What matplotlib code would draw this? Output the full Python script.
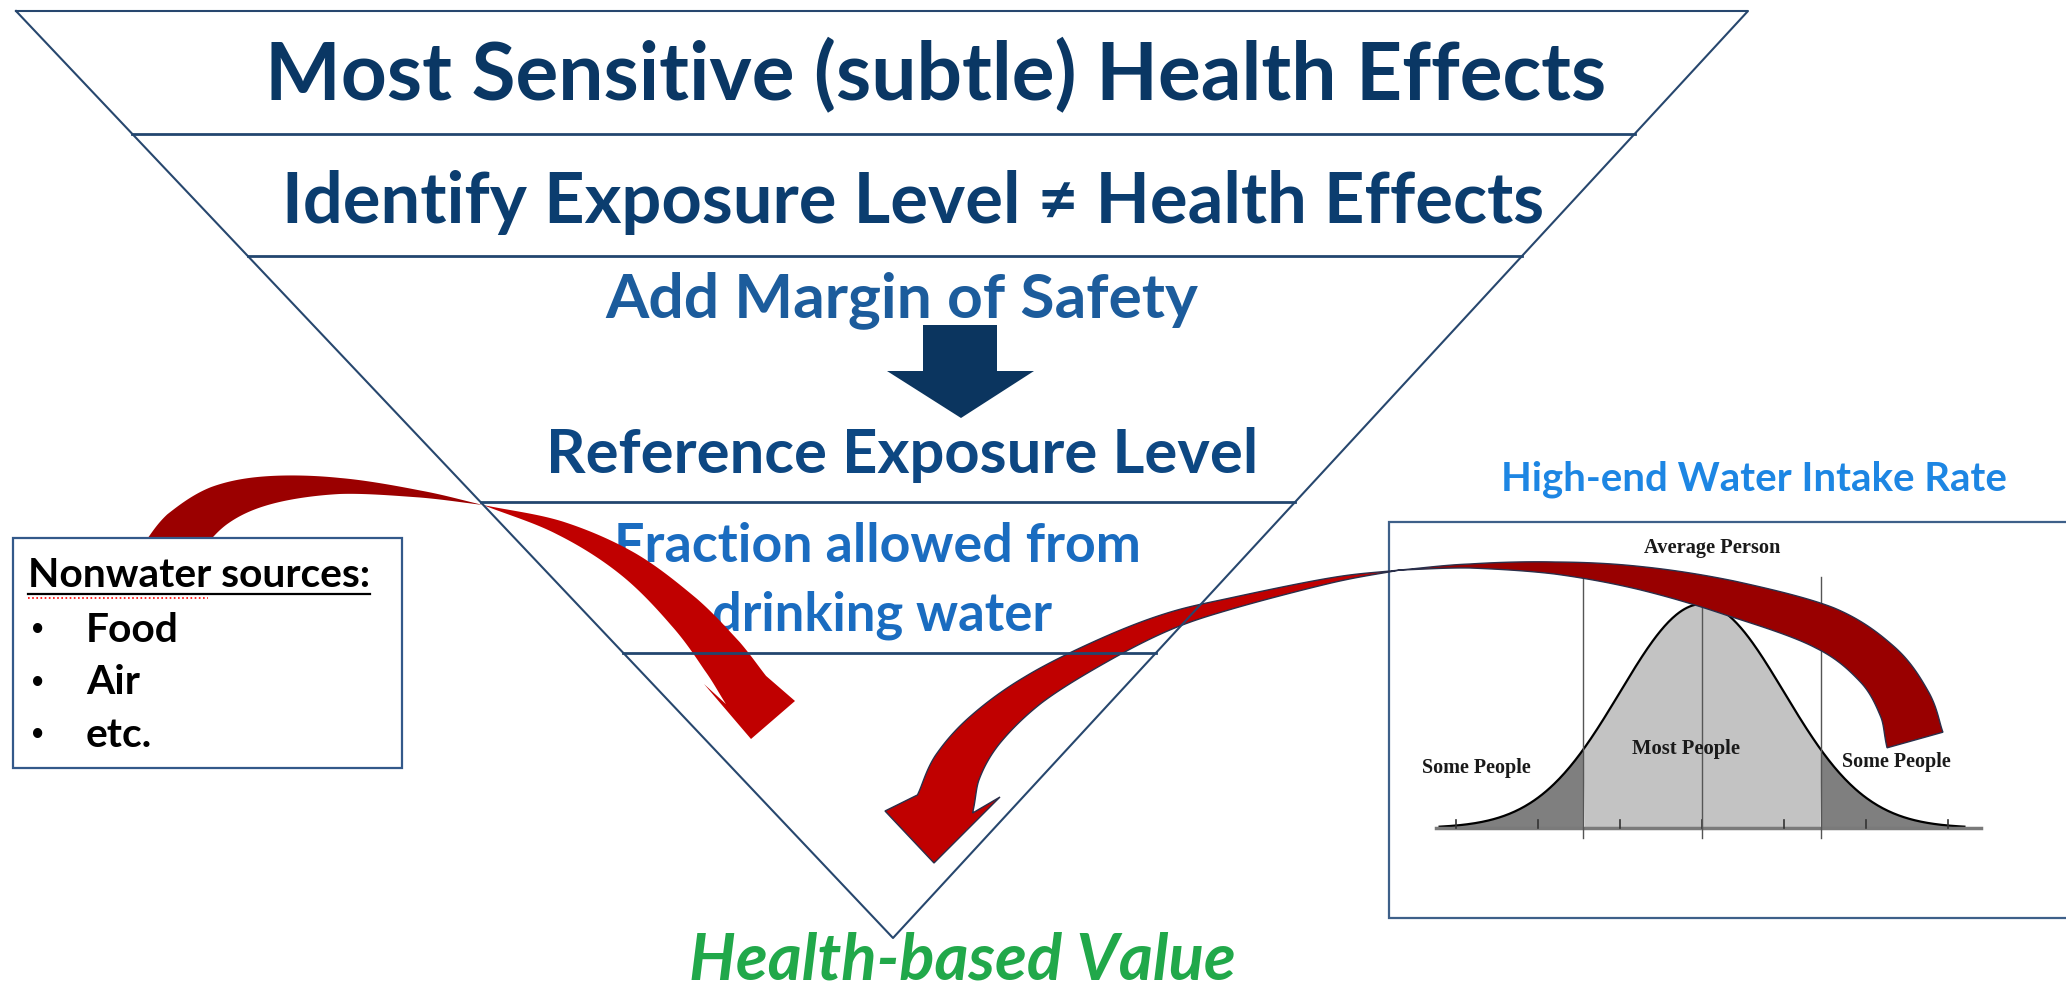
import numpy as np
import matplotlib.pyplot as plt
from matplotlib.patches import Polygon, Rectangle

# text of the diagram
layer_labels = ['Most Sensitive (subtle) Health Effects',
                'Identify Exposure Level \u2260 Health Effects',
                'Add Margin of Safety',
                'Reference Exposure Level',
                'Fraction allowed from',
                'drinking water']
result_label = 'Health-based Value'
nonwater_title = 'Nonwater sources:'
nonwater_items = ['Food', 'Air', 'etc.']
intake_title = 'High-end Water Intake Rate'
bell_top_label = 'Average Person'
bell_labels = ['Some People', 'Most People', 'Some People']
tick_sigmas = [-3, -2, -1, 0, 1, 2, 3]
band_cut = 1.45  # edge of the "most people" band, in sigmas

W, H = 2066, 986
fig = plt.figure(figsize=(W / 100, H / 100), dpi=100)
ax = fig.add_axes([0, 0, 1, 1])
ax.set_xlim(0, W)
ax.set_ylim(H, 0)   # work in pixel units, y down
ax.axis('off')
renderer = fig.canvas.get_renderer()

SANS = ['Lato', 'DejaVu Sans']
SERIF = ['Liberation Serif', 'DejaVu Serif']


def fit_text(x, y, s, width, ha='center', va='baseline', family=SANS, **kw):
    # place text and scale its size so it spans the given pixel width
    kw.setdefault('fontweight', 'bold')
    t = ax.text(x, y, s, fontsize=40, ha=ha, va=va, family=family, **kw)
    w = t.get_window_extent(renderer).width
    t.set_fontsize(40 * width / w)
    return t


def ribbon(pts, widths, n=40):
    # smooth centre line (catmull-rom) with varying width -> two edges
    pts = np.array(pts, float)
    P = np.vstack([2 * pts[0] - pts[1], pts, 2 * pts[-1] - pts[-2]])
    cs, ws = [], []
    t = np.linspace(0, 1, n, endpoint=False)[:, None]
    for i in range(1, len(P) - 2):
        p0, p1, p2, p3 = P[i - 1], P[i], P[i + 1], P[i + 2]
        seg = 0.5 * (2 * p1 + (-p0 + p2) * t + (2 * p0 - 5 * p1 + 4 * p2 - p3) * t ** 2
                     + (-p0 + 3 * p1 - 3 * p2 + p3) * t ** 3)
        cs.append(seg)
        ws.append(widths[i - 1] + (widths[i] - widths[i - 1]) * t[:, 0])
    cs.append(pts[-1:])
    ws.append([widths[-1]])
    c = np.vstack(cs)
    w = np.concatenate(ws)
    d = np.gradient(c, axis=0)
    d /= np.linalg.norm(d, axis=1)[:, None]
    nrm = np.column_stack([-d[:, 1], d[:, 0]])
    return c + nrm * w[:, None] / 2, c - nrm * w[:, None] / 2


def curved_arrow(back_pts, back_w, front_pts, front_w, head, back_col, front_col, z, ec='none'):
    a, b = ribbon(back_pts, back_w)
    ax.add_patch(Polygon(np.vstack([a, b[::-1]]), closed=True, fc=back_col,
                         ec=ec, lw=1.0, zorder=z))
    a, b = ribbon(front_pts, front_w)
    h0, tip, h1 = [np.array(p, float) for p in head]
    if np.linalg.norm(h0 - a[-1]) > np.linalg.norm(h1 - a[-1]):
        h0, h1 = h1, h0
    poly = np.vstack([a, [h0, tip, h1], b[::-1]])
    ax.add_patch(Polygon(poly, closed=True, fc=front_col, ec=ec, lw=1.0, zorder=z))


# inverted triangle with its layer lines
tl, tr, apex = (16, 11), (1748, 11), (893, 938)
line_col = '#27476e'
ax.plot([tl[0], tr[0], apex[0], tl[0]], [tl[1], tr[1], apex[1], tl[1]],
        color=line_col, lw=1.5, zorder=9)
for y in [134, 256, 502, 653]:
    xl = np.interp(y, [tl[1], apex[1]], [tl[0], apex[0]])
    xr = np.interp(y, [tr[1], apex[1]], [tr[0], apex[0]])
    ax.plot([xl, xr], [y, y], color='#22466f', lw=2.0, zorder=9)

# layer texts
fit_text(936, 100, layer_labels[0], 1342, color='#0a3764', zorder=3)
fit_text(913, 223, layer_labels[1], 1261, color='#0b3d6f', zorder=3)
fit_text(902, 317, layer_labels[2], 593, color='#1c5c9c', zorder=3)
fit_text(902, 473, layer_labels[3], 711, color='#0d4782', zorder=3)
fit_text(877, 562, layer_labels[4], 527, color='#1a6cc0', zorder=3)
fit_text(882, 630, layer_labels[5], 340, color='#1a6cc0', zorder=3)
fit_text(962, 980, result_label, 546, color='#21a84a', fontstyle='italic', zorder=3)

# navy block arrow under "Add Margin of Safety"
ax.add_patch(Polygon([(923, 325), (997, 325), (997, 371), (1034, 371), (961, 418),
                      (887, 371), (923, 371)], closed=True, fc='#0b355f', ec='none', zorder=3))

# left box: non-water sources
ax.add_patch(Rectangle((13, 538), 389, 230, fc='white', ec='#33598a', lw=1.6, zorder=6))
t = fit_text(28, 587, nonwater_title, 342, ha='left', color='black', zorder=7)
fs = t.get_fontsize()
ax.plot([28, 370], [594, 594], color='black', lw=1.6, zorder=7)
ax.plot([28, 208], [598, 598], color='red', lw=1.2, ls=(0, (1, 1.5)), zorder=7)
for i, item in enumerate(nonwater_items):
    yb = 642 + i * 52.5
    ax.text(38, yb - 3, '\u2022', fontsize=fs * 0.8, ha='center', va='baseline',
            family=['Liberation Sans', 'DejaVu Sans'], fontweight='bold', color='black', zorder=7)
    ax.text(86, yb, item, fontsize=fs, ha='left', va='baseline', family=SANS,
            fontweight='bold', color='black', zorder=7)

# right box: distribution of water intake
fit_text(1754, 490, intake_title, 505, color='#1d86e3', zorder=3)
ax.add_patch(Rectangle((1389, 522), 720, 396, fc='white', ec='#3e6089', lw=1.6, zorder=2))
mu, sig, base, amp = 1702, 82, 828, 224
x = np.linspace(mu - 3.2 * sig, mu + 3.2 * sig, 400)
z = (x - mu) / sig
yc = base - amp * np.exp(-z ** 2 / 2)
ax.fill_between(x, yc, base, where=np.abs(z) <= band_cut, color='#c3c3c3', lw=0,
                interpolate=True, zorder=3)
ax.fill_between(x, yc, base, where=np.abs(z) >= band_cut, color='#7f7f7f', lw=0,
                interpolate=True, zorder=3)
ax.plot(x, yc, color='black', lw=1.6, zorder=4)
ax.plot([mu - 3.25 * sig, mu + 3.4 * sig], [base, base], color='#7a7a7a', lw=2.5, zorder=4)
for k in tick_sigmas:
    ax.plot([mu + k * sig] * 2, [base - 8, base], color='#333333', lw=1.2, zorder=4)
for k in [-band_cut, band_cut]:
    ax.plot([mu + k * sig] * 2, [577, 838], color='#555555', lw=1.0, zorder=4)
ax.plot([mu, mu], [597, 838], color='#555555', lw=1.0, zorder=4)
fit_text(1712, 548, bell_top_label, 136, va='center', family=SERIF, color='#1a1a1a', zorder=4)
fit_text(1476, 768, bell_labels[0], 109, va='center', family=SERIF, color='#1a1a1a', zorder=4)
fit_text(1686, 749, bell_labels[1], 108, va='center', family=SERIF, color='#1a1a1a', zorder=4)
fit_text(1896, 762, bell_labels[2], 109, va='center', family=SERIF, color='#1a1a1a', zorder=4)

# red curved arrows (dark back half, bright front half)
curved_arrow([(165, 560), (185, 532), (220, 505), (270, 490), (340, 486), (420, 494), (483, 505)],
             [54, 50, 40, 28, 16, 7, 0],
             [(483, 505), (560, 528), (628, 564), (684, 612), (722, 656), (746, 690)],
             [0, 14, 26, 37, 45, 49],
             [(704, 684), (751, 739), (795, 701)], '#9b0000', '#c00000', 5)
curved_arrow([(1915, 740), (1905, 705), (1878, 665), (1825, 628), (1730, 598), (1640, 578),
              (1555, 568), (1470, 566), (1400, 570)],
             [58, 54, 49, 44, 35, 23, 12, 4, 0],
             [(1400, 570), (1333, 580), (1233, 603), (1167, 622), (1100, 652), (1033, 690),
              (985, 730), (957, 768), (945, 804)],
             [0, 5, 11, 17, 24, 31, 40, 50, 58],
             [(885, 811), (934, 863), (1000, 797)], '#990000', '#c00000', 8, ec='#2a2f4a')

fig.savefig('out.png', dpi=100, facecolor='white')
